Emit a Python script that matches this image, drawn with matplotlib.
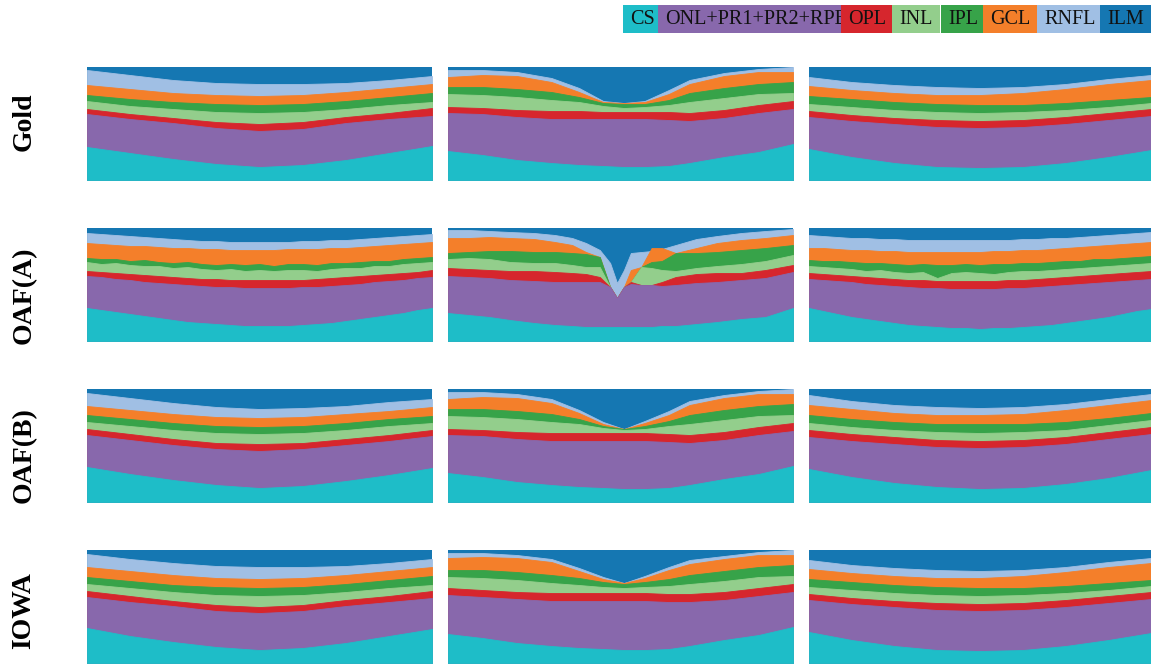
import matplotlib
matplotlib.use("Agg")
import matplotlib.pyplot as plt
from matplotlib.patches import Rectangle

# ---------------- data ----------------
LAYERS = ["CS", "ONL+PR1+PR2+RPE", "OPL", "INL", "IPL", "GCL", "RNFL", "ILM"]
COLORS = {"CS": "#1ebdc8", "ONL+PR1+PR2+RPE": "#8868ac", "OPL": "#d6262d",
          "INL": "#93ce8c", "IPL": "#37a349", "GCL": "#f47f2a",
          "RNFL": "#a0bfe4", "ILM": "#1577b2"}
ROW_LABELS = ["Gold", "OAF(A)", "OAF(B)", "IOWA"]

# sample positions across each B-scan (fraction of width)
X9 = [0, .125, .25, .375, .5, .625, .75, .875, 1]
X13 = [0, .1, .2, .3, .38, .45, .51, .57, .64, .7, .8, .9, 1]
X25 = [i / 24 for i in range(25)]
X22 = [0, .06, .12, .18, .25, .31, .36, .40, .44, .47, .49, .51, .53, .56,
       .59, .62, .66, .72, .78, .85, .92, 1]

# boundary depths (pixels from top of a 113 px scan), top to bottom:
# ILM|RNFL, RNFL|GCL, GCL|IPL, IPL|INL, INL|OPL, OPL|ONL, ONL|CS
GOLD_1 = [[3, 8, 13, 16, 17, 17, 16, 13, 9],
          [18, 22, 26, 28, 29, 28, 25, 21, 17],
          [28, 32, 35, 37, 38, 37, 34, 30, 26],
          [34, 39, 42, 45, 46, 45, 42, 38, 35],
          [42, 47, 51, 55, 57, 55, 50, 46, 41],
          [47, 52, 56, 61, 64, 62, 56, 52, 49],
          [80, 86, 92, 97, 100, 98, 93, 86, 79]]
GOLD_2 = [[3, 3, 5, 11, 21, 34, 36, 34, 23, 13, 6, 2, 0],
          [10, 8, 9, 15, 25, 35, 36, 35, 27, 17, 9, 5, 5],
          [20, 20, 22, 25, 30, 36, 37, 37, 33, 26, 21, 17, 15],
          [27, 28, 30, 33, 35, 39, 41, 40, 38, 35, 31, 27, 26],
          [40, 41, 43, 44, 44, 45, 45, 45, 45, 46, 43, 38, 34],
          [46, 47, 50, 52, 52, 52, 52, 52, 53, 54, 51, 46, 42],
          [84, 88, 93, 96, 98, 99, 100, 100, 99, 96, 90, 85, 77]]
GOLD_3 = [[10, 15, 18, 20, 21, 20, 17, 12, 8],
          [19, 23, 26, 28, 28, 26, 22, 17, 13],
          [29, 32, 35, 37, 38, 38, 36, 33, 30],
          [37, 40, 43, 45, 46, 45, 43, 40, 36],
          [44, 48, 51, 53, 54, 53, 50, 46, 42],
          [50, 54, 57, 60, 61, 60, 57, 53, 49],
          [82, 90, 96, 100, 101, 100, 96, 90, 83]]

OAFA_1 = [[5, 6, 7, 8, 9, 10, 11, 12, 13, 13, 14, 14, 14, 14, 14, 13, 13, 12, 12, 11, 10, 9, 8, 7, 6],
          [15, 16, 17, 18, 18, 19, 20, 20, 21, 21, 22, 22, 22, 22, 21, 21, 21, 20, 20, 19, 18, 17, 16, 15, 14],
          [30, 31, 31, 33, 32, 34, 35, 34, 36, 37, 36, 37, 36, 38, 36, 36, 37, 35, 35, 34, 33, 33, 31, 30, 29],
          [34, 36, 35, 37, 38, 38, 40, 39, 41, 42, 41, 43, 42, 43, 42, 42, 43, 41, 40, 40, 38, 38, 36, 35, 34],
          [43, 44, 45, 46, 47, 48, 49, 50, 51, 51, 52, 52, 52, 52, 52, 52, 51, 50, 49, 48, 47, 46, 45, 44, 42],
          [48, 49, 51, 52, 54, 55, 56, 57, 58, 59, 59, 60, 60, 60, 60, 59, 59, 58, 57, 56, 54, 53, 52, 50, 49],
          [80, 82, 84, 86, 88, 90, 92, 94, 95, 96, 97, 98, 98, 98, 98, 97, 96, 95, 93, 91, 89, 87, 85, 82, 80]]
OAFA_2 = [[2, 2, 3, 4, 5, 7, 10, 15, 22, 35, 55, 42, 25, 24, 23, 21, 17, 11, 8, 5, 3, 1],
          [10, 10, 9, 10, 11, 14, 17, 24, 29, 59, 70, 59, 42, 39, 20, 20, 25, 20, 15, 12, 10, 7],
          [25, 24, 23, 23, 24, 24, 25, 26, 29, 59, 70, 59, 54, 39, 34, 33, 25, 25, 24, 22, 20, 17],
          [31, 30, 31, 34, 35, 35, 37, 39, 39, 59, 70, 59, 54, 39, 40, 42, 43, 40, 38, 36, 33, 27],
          [40, 41, 42, 43, 43, 44, 45, 46, 49, 59, 70, 59, 54, 57, 57, 54, 49, 46, 45, 45, 42, 37],
          [48, 49, 50, 52, 53, 54, 54, 54, 54, 59, 70, 59, 56, 57, 57, 58, 57, 55, 54, 52, 50, 44],
          [85, 87, 89, 92, 95, 97, 98, 99, 99, 99, 99, 99, 99, 99, 99, 98, 98, 96, 94, 91, 89, 80]]
OAFA_3 = [[7, 8, 9, 10, 10, 11, 11, 12, 12, 12, 12, 12, 12, 12, 12, 11, 11, 10, 10, 9, 8, 7, 6, 5, 4],
          [20, 20, 21, 22, 22, 23, 23, 24, 24, 24, 24, 24, 24, 23, 23, 22, 22, 21, 20, 19, 18, 17, 16, 15, 14],
          [32, 33, 33, 34, 35, 35, 36, 37, 36, 37, 37, 36, 37, 36, 36, 35, 35, 34, 33, 33, 31, 31, 30, 29, 28],
          [38, 39, 40, 41, 43, 42, 44, 45, 44, 50, 45, 44, 45, 46, 44, 43, 43, 42, 41, 40, 39, 38, 37, 36, 35],
          [45, 46, 47, 48, 49, 50, 51, 52, 52, 53, 53, 53, 53, 53, 52, 52, 51, 50, 49, 48, 47, 46, 45, 44, 43],
          [51, 52, 53, 54, 56, 57, 58, 59, 60, 60, 61, 61, 61, 61, 60, 60, 59, 58, 57, 56, 55, 54, 53, 52, 51],
          [80, 83, 86, 89, 91, 93, 95, 97, 98, 99, 100, 100, 101, 100, 100, 99, 98, 97, 95, 93, 91, 89, 86, 83, 81]]

OAFB_1 = [[4, 9, 14, 18, 20, 19, 17, 13, 10],
          [17, 21, 25, 28, 29, 28, 25, 22, 18],
          [26, 30, 34, 37, 38, 37, 34, 30, 27],
          [33, 37, 41, 44, 45, 44, 41, 37, 34],
          [40, 45, 50, 54, 55, 54, 50, 46, 41],
          [46, 51, 56, 60, 62, 60, 56, 52, 47],
          [78, 85, 91, 96, 99, 97, 92, 86, 79]]
OAFB_2 = [[3, 3, 5, 10, 21, 33, 40, 32, 22, 12, 6, 2, 0],
          [10, 8, 9, 14, 24, 35, 40, 34, 26, 16, 9, 5, 5],
          [20, 20, 22, 25, 30, 37, 40, 37, 32, 26, 21, 17, 15],
          [27, 28, 30, 33, 35, 39, 41, 40, 37, 35, 31, 27, 26],
          [40, 41, 43, 44, 44, 44, 44, 44, 45, 46, 43, 38, 34],
          [46, 47, 50, 52, 52, 52, 52, 52, 53, 54, 51, 46, 42],
          [84, 88, 93, 96, 98, 99, 100, 100, 99, 96, 90, 85, 77]]
OAFB_3 = [[6, 12, 16, 18, 19, 18, 15, 10, 5],
          [16, 20, 24, 26, 26, 25, 21, 16, 11],
          [26, 30, 33, 35, 35, 35, 33, 29, 24],
          [34, 38, 41, 43, 44, 43, 41, 36, 31],
          [41, 45, 48, 51, 52, 51, 48, 43, 38],
          [48, 52, 55, 58, 59, 58, 55, 50, 45],
          [80, 88, 94, 98, 100, 99, 95, 89, 81]]

IOWA_1 = [[4, 9, 13, 16, 17, 17, 16, 13, 9],
          [17, 21, 25, 28, 29, 28, 25, 21, 17],
          [27, 31, 35, 37, 38, 37, 34, 30, 26],
          [34, 38, 42, 45, 46, 45, 42, 38, 35],
          [41, 46, 51, 55, 57, 55, 50, 46, 41],
          [47, 52, 56, 61, 63, 61, 56, 52, 48],
          [78, 86, 92, 97, 100, 98, 93, 86, 79]]
IOWA_2 = [[3, 3, 5, 9, 18, 27, 33, 26, 17, 10, 6, 2, 0],
          [8, 7, 8, 12, 21, 29, 33, 28, 20, 14, 9, 5, 5],
          [20, 20, 22, 25, 28, 32, 34, 32, 29, 25, 21, 17, 15],
          [27, 28, 30, 33, 35, 37, 38, 37, 36, 34, 31, 27, 26],
          [38, 40, 42, 43, 43, 43, 43, 43, 44, 44, 42, 38, 34],
          [45, 47, 49, 51, 51, 51, 51, 51, 52, 52, 50, 46, 42],
          [84, 88, 93, 96, 98, 99, 100, 100, 99, 96, 90, 85, 77]]
IOWA_3 = [[10, 15, 18, 20, 21, 20, 17, 12, 8],
          [19, 23, 26, 28, 28, 26, 22, 17, 13],
          [29, 32, 35, 37, 38, 38, 36, 33, 30],
          [37, 40, 43, 45, 46, 45, 43, 40, 36],
          [44, 48, 51, 53, 54, 53, 50, 46, 42],
          [50, 54, 57, 60, 61, 60, 57, 53, 49],
          [82, 90, 96, 100, 101, 100, 96, 90, 83]]

PANELS = [[(X9, GOLD_1), (X13, GOLD_2), (X9, GOLD_3)],
          [(X25, OAFA_1), (X22, OAFA_2), (X25, OAFA_3)],
          [(X9, OAFB_1), (X13, OAFB_2), (X9, OAFB_3)],
          [(X9, IOWA_1), (X13, IOWA_2), (X9, IOWA_3)]]

# ---------------- layout ----------------
W, H = 1151, 664
SCAN_H = 113
fig = plt.figure(figsize=(W / 100, H / 100), dpi=100)
col_x = [87, 448, 809]
col_w = [345, 345, 342]
row_top = [67, 228, 389, 550]
label_y = [122, 295, 455, 611]

# paint order: RNFL ... CS (ILM is background)
paint = ["RNFL", "GCL", "IPL", "INL", "OPL", "ONL+PR1+PR2+RPE", "CS"]

for r in range(4):
    for c in range(3):
        xs, bounds = PANELS[r][c]
        ax = fig.add_axes([col_x[c] / W, 1 - (row_top[r] + SCAN_H) / H,
                           col_w[c] / W, SCAN_H / H])
        ax.add_patch(Rectangle((0, 0), 1, 1, transform=ax.transAxes,
                               facecolor=COLORS["ILM"], edgecolor="none",
                               zorder=-5))
        for name, b in zip(paint, bounds):
            ax.fill_between(xs, b, SCAN_H, color=COLORS[name], lw=0.6,
                            edgecolor=COLORS[name])
        ax.set_xlim(0, 1)
        ax.set_ylim(SCAN_H, 0)
        ax.axis("off")
    fig.text(24 / W, 1 - label_y[r] / H, ROW_LABELS[r],
             rotation=90, ha="center", va="center", fontsize=20,
             fontweight="bold", family="Liberation Serif")

# legend boxes (pixel edges)
edges = [623, 658, 841, 892, 941, 983, 1037, 1100, 1151]
for i, name in enumerate(LAYERS):
    x0, x1 = edges[i], edges[i + 1]
    fig.patches.append(Rectangle((x0 / W, 1 - 33 / H), (x1 - x0) / W, 28 / H,
                                 transform=fig.transFigure,
                                 facecolor=COLORS[name], edgecolor="none",
                                 zorder=10 + 2 * i))
    fig.text((x0 + 7) / W, 1 - 19.5 / H, name, ha="left", va="center",
             fontsize=14.5, family="Liberation Serif", color="#111111",
             zorder=11 + 2 * i)
# thin white separator between INL and IPL
fig.patches.append(Rectangle((940 / W, 1 - 33 / H), 1 / W, 28 / H,
                             transform=fig.transFigure, facecolor="white",
                             edgecolor="none", zorder=40))

fig.savefig("out.png", dpi=100)
